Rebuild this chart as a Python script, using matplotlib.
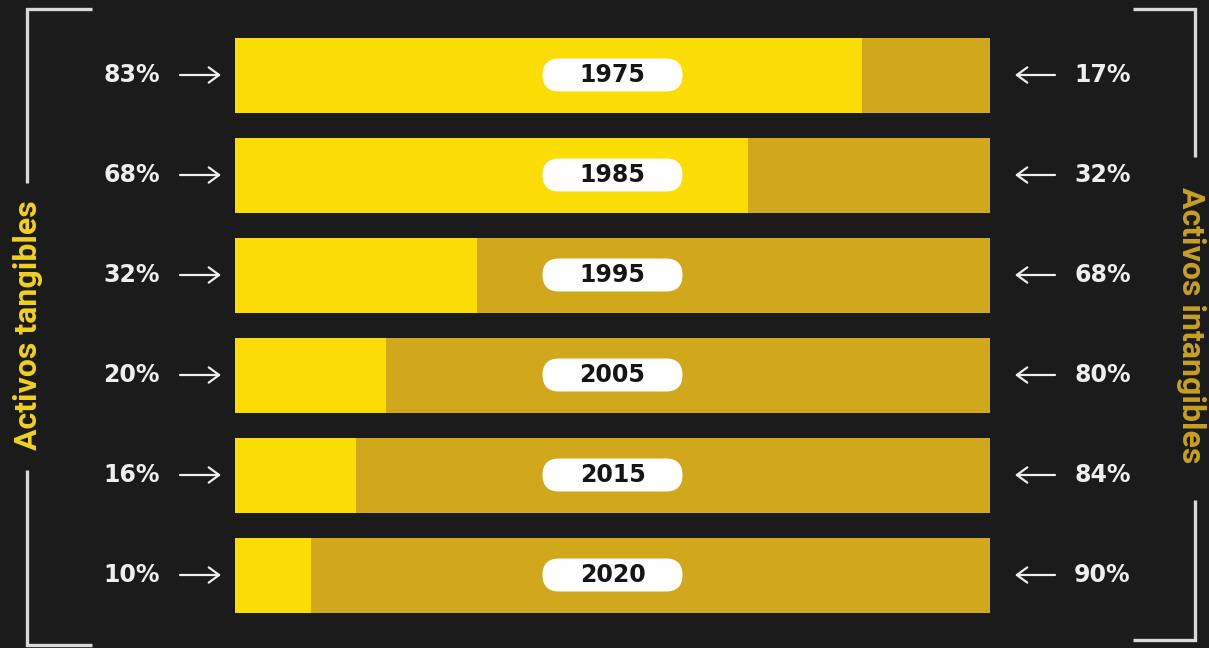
import matplotlib
matplotlib.use("Agg")
import matplotlib.pyplot as plt
from matplotlib.patches import FancyBboxPatch
from matplotlib.transforms import Affine2D, ScaledTranslation
from matplotlib.lines import Line2D

years = ["1975", "1985", "1995", "2005", "2015", "2020"]
tangibles = [83, 68, 32, 20, 16, 10]
intangibles = [17, 32, 68, 80, 84, 90]
left_title = "Activos tangibles"
right_title = "Activos intangibles"

BG = "#1b1b1b"
YELLOW = "#fbdc04"
GOLD = "#d1a81c"
WHITE = "#eeeeee"

W, H = 1209, 648
fig = plt.figure(figsize=(W / 100, H / 100), dpi=100, facecolor=BG)
ax = fig.add_axes([0, 0, 1, 1])
ax.set_facecolor(BG)

# pixel mapping: bar 0..100 spans px 235..990 ; rows centered at 75 + 100*i
x0, x1 = 235, 990
s = (x1 - x0) / 100.0
ax.set_xlim(-x0 / s, (W - x0) / s)
ax.set_ylim((H - 75) / 100.0, -75 / 100.0)
ax.axis("off")

ypos = list(range(len(years)))
ax.barh(ypos, tangibles, height=0.75, color=YELLOW, linewidth=0)
ax.barh(ypos, intangibles, left=tangibles, height=0.75, color=GOLD, linewidth=0)

num_font = "DejaVu Sans"
title_font = "Roboto"
PX = 0.72  # points per pixel at 100 dpi
arrow_style = "->,head_length=0.75,head_width=0.55"

for i, (yr, t, it) in enumerate(zip(years, tangibles, intangibles)):
    # pill
    tr = Affine2D() + ScaledTranslation(50, i, ax.transData)
    pill = FancyBboxPatch((-70, -16.5), 140, 33,
                          boxstyle="round,pad=0,rounding_size=16.5",
                          facecolor="white", edgecolor="none", transform=tr, zorder=3)
    ax.add_patch(pill)
    ax.text(50, i, yr, ha="center", va="center", fontsize=17, fontweight="bold",
            family=num_font, color="#151515", zorder=4)
    # left label + arrow
    ax.annotate(f"{t}%", xy=(0, i), xytext=(-75, 0), textcoords="offset pixels",
                ha="right", va="center", fontsize=17, fontweight="bold",
                family=num_font, color=WHITE)
    ax.annotate("", xy=(0, i), xytext=(-55, 0), textcoords="offset pixels",
                arrowprops=dict(arrowstyle=arrow_style,
                                color=WHITE, lw=1.6, shrinkA=0, shrinkB=14 * PX))
    # right label + arrow
    ax.annotate(f"{it}%", xy=(100, i), xytext=(84, 0), textcoords="offset pixels",
                ha="left", va="center", fontsize=17, fontweight="bold",
                family=num_font, color=WHITE)
    ax.annotate("", xy=(100, i), xytext=(65, 0), textcoords="offset pixels",
                arrowprops=dict(arrowstyle=arrow_style,
                                color=WHITE, lw=1.6, shrinkA=0, shrinkB=25 * PX))

def fig_line(xs, ys):
    fig.add_artist(Line2D([x / W for x in xs], [1 - y / H for y in ys],
                          color="#d8d8d8", lw=2.4, solid_capstyle="butt",
                          solid_joinstyle="miter"))

# left bracket
fig_line([92, 27, 27], [9, 9, 183])
fig_line([27, 27, 92], [470, 645, 645])
# right bracket
fig_line([1133, 1195, 1195], [9, 9, 157])
fig_line([1195, 1195, 1133], [500, 640, 640])

fig.text(28 / W, 1 - 325 / H, left_title, rotation=90, ha="center", va="center",
         fontsize=23, fontweight="bold", family=title_font, color="#f0d21e")
fig.text(1191 / W, 1 - 325 / H, right_title, rotation=-90, ha="center", va="center",
         fontsize=23, fontweight="bold", family=title_font, color="#c9a021")

fig.savefig("out.png", dpi=100, facecolor=BG)
